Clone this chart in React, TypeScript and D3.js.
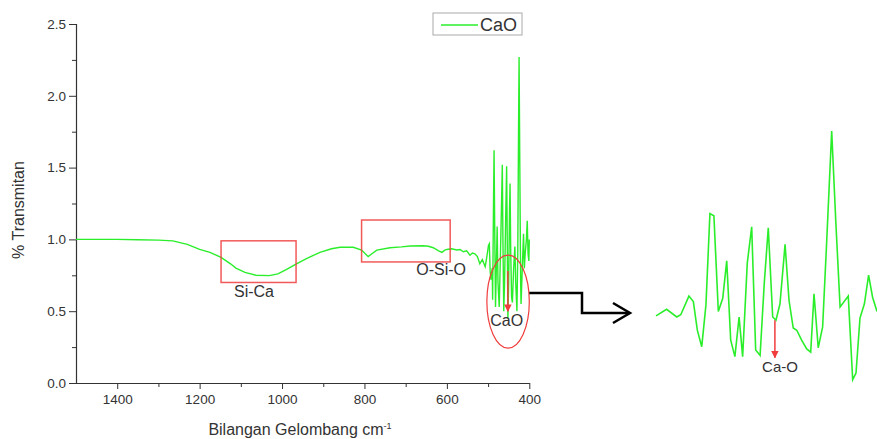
import React, { useEffect, useRef } from 'react';
import * as d3 from 'd3';

// FTIR spectrum of CaO, wavenumber (cm-1) vs transmittance
const wavenumbers = [
  1500, 1450, 1400, 1350, 1300, 1265, 1230, 1200, 1175, 1148, 1125, 1112, 1090, 1063, 1031, 1010,
  990, 965, 942, 908, 880, 859, 827, 807, 798, 791, 782, 770, 738, 710, 689, 657, 645, 633, 620,
  612, 605, 600, 588, 576, 568, 560, 552, 544, 538, 532, 526, 520, 514, 507, 503, 499, 497, 495,
  493, 490, 489, 487, 485.5, 484, 482, 480, 478, 476, 473, 470, 467, 465.5, 464, 462, 460, 457,
  455, 453.5, 452, 450, 448, 446.7, 445, 443, 441, 438, 435, 433, 430, 428, 426, 424.8, 423, 421,
  420, 417, 414, 412, 410, 407, 405, 403, 401, 400,
];
const transmittance = [
  1.0, 1.0, 1.0, 0.998, 0.995, 0.99, 0.965, 0.93, 0.91, 0.875, 0.83, 0.8, 0.77, 0.75, 0.748, 0.76,
  0.79, 0.83, 0.865, 0.91, 0.935, 0.945, 0.945, 0.926, 0.9, 0.88, 0.9, 0.925, 0.942, 0.948, 0.954,
  0.956, 0.952, 0.942, 0.92, 0.91, 0.925, 0.93, 0.935, 0.926, 0.93, 0.914, 0.92, 0.89, 0.905, 0.9,
  0.88, 0.83, 0.86, 0.81, 0.88, 0.96, 0.97, 0.78, 0.72, 0.8, 0.58, 1.2, 1.62, 1.1, 0.53, 0.8, 1.09,
  0.7, 0.53, 0.9, 1.3, 1.52, 1.0, 0.5, 0.7, 1.2, 1.51, 1.0, 0.45, 0.7, 1.2, 1.39, 0.9, 0.6, 0.56,
  0.8, 0.95, 0.7, 0.5, 0.9, 1.8, 2.27, 1.5, 0.7, 0.55, 0.8, 1.04, 0.8, 0.9, 1.0, 1.13, 0.9, 0.85,
  1.0,
];

// enlarged view of the 500-400 cm-1 region (relative units)
const insetWavenumbers = [
  500, 495.2, 490.6, 488.8, 485.1, 483.1, 481.3, 479.3, 477.4, 475.6, 473.8, 471.8, 469.8, 468.0,
  466.2, 464.3, 462.4, 460.8, 458.7, 456.7, 454.9, 452.9, 451.0, 449.2, 447.2, 445.7, 443.9, 441.6,
  439.8, 437.9, 436.3, 434.1, 431.8, 430.0, 428.5, 426.6, 424.6, 422.8, 420.5, 418.6, 416.7, 413.0,
  411.0, 409.5, 407.7, 405.7, 403.8, 402.0, 400,
];
const insetValues = [
  0.61, 0.67, 0.6, 0.62, 0.79, 0.74, 0.48, 0.33, 0.71, 1.54, 1.52, 0.65, 0.77, 1.11, 0.39, 0.24,
  0.6, 0.24, 1.09, 1.42, 0.3, 0.25, 0.91, 1.41, 0.6, 0.57, 0.72, 1.26, 0.75, 0.5, 0.48, 0.39, 0.31,
  0.28, 0.81, 0.32, 0.51, 1.27, 2.29, 1.45, 0.69, 0.79, 0.03, 0.09, 0.59, 0.72, 0.98, 0.78, 0.65,
];

const yTicks = [0, 0.5, 1.0, 1.5, 2.0, 2.5];
const yMinorTicks = [0.25, 0.75, 1.25, 1.75, 2.25];
const xTicks = [1400, 1200, 1000, 800, 600, 400];
const xMinorTicks = [1300, 1100, 900, 700, 500];

const seriesName = 'CaO';
const FONT = '"Liberation Sans", Arial, sans-serif';
const GREEN = '#2bee2b';
const RED = '#f03c3c';

const App = () => {
  const ref = useRef<SVGSVGElement>(null);

  useEffect(() => {
    const svg = d3.select(ref.current);
    svg.selectAll('*').remove();

    const x = d3.scaleLinear().domain([1500, 400]).range([76, 529.3]);
    const y = d3.scaleLinear().domain([0, 2.5]).range([383, 24]);

    const defs = svg.append('defs');
    defs.append('marker')
      .attr('id', 'redhead')
      .attr('viewBox', '0 0 10 10')
      .attr('refX', 9).attr('refY', 5)
      .attr('markerWidth', 5).attr('markerHeight', 6)
      .attr('orient', 'auto')
      .append('path').attr('d', 'M0,0L10,5L0,10z').attr('fill', RED);

    // axes
    const yAxis = svg.append('g').attr('transform', 'translate(76,0)').style('color', '#333');
    yAxis.call(d3.axisLeft(y).tickValues(yTicks).tickSize(7).tickPadding(3).tickFormat(d3.format('.1f')));
    svg.append('g').attr('transform', 'translate(76,0)').style('color', '#333')
      .call(d3.axisLeft(y).tickValues(yMinorTicks).tickSize(4).tickFormat(() => ''))
      .select('.domain').remove();

    const xAxis = svg.append('g').attr('transform', 'translate(0,383)').style('color', '#333');
    xAxis.call(d3.axisBottom(x).tickValues(xTicks).tickSize(6).tickPadding(5).tickSizeOuter(0).tickFormat(d3.format('d')));
    svg.append('g').attr('transform', 'translate(0,383)').style('color', '#333')
      .call(d3.axisBottom(x).tickValues(xMinorTicks).tickSize(4).tickFormat(() => ''))
      .select('.domain').remove();

    svg.selectAll('.tick text').style('font-family', FONT).style('font-size', '13.5px').attr('fill', '#333');
    svg.selectAll('.domain').attr('stroke-width', 1.2);

    svg.append('text')
      .attr('transform', 'translate(24,210) rotate(-90)')
      .attr('text-anchor', 'middle')
      .style('font-family', FONT).style('font-size', '16px').attr('fill', '#333')
      .text('% Transmitan');

    const xt = svg.append('text')
      .attr('x', 300).attr('y', 435)
      .attr('text-anchor', 'middle')
      .style('font-family', FONT).style('font-size', '16px').attr('fill', '#333');
    xt.append('tspan').text('Bilangan Gelombang cm');
    xt.append('tspan').attr('dy', -6).style('font-size', '9px').text('-1');

    // spectrum
    const pts = wavenumbers.map((w, i) => [w, transmittance[i]] as [number, number]);
    svg.append('path')
      .datum(pts)
      .attr('fill', 'none')
      .attr('stroke', GREEN)
      .attr('stroke-width', 1.4)
      .attr('d', d3.line<[number, number]>().x(d => x(d[0])).y(d => y(d[1])));

    // legend
    svg.append('rect').attr('x', 433).attr('y', 13).attr('width', 89).attr('height', 22)
      .attr('fill', 'white').attr('stroke', '#aaa').attr('stroke-width', 1);
    svg.append('line').attr('x1', 441).attr('x2', 478).attr('y1', 25).attr('y2', 25)
      .attr('stroke', GREEN).attr('stroke-width', 1.4);
    svg.append('text').attr('x', 480).attr('y', 31)
      .style('font-family', FONT).style('font-size', '18px').attr('fill', '#333').text(seriesName);

    // annotations
    const boxes = [
      { w0: 1148, w1: 966, v0: 0.99, v1: 0.7, label: 'Si-Ca', lw: 1068, lv: 0.6 },
      { w0: 807, w1: 592, v0: 1.135, v1: 0.843, label: 'O-Si-O', lw: 614, lv: 0.752 },
    ];
    boxes.forEach(b => {
      svg.append('rect')
        .attr('x', x(b.w0)).attr('y', y(b.v0))
        .attr('width', x(b.w1) - x(b.w0)).attr('height', y(b.v1) - y(b.v0))
        .attr('fill', 'none').attr('stroke', RED).attr('stroke-width', 1.5).attr('opacity', 0.85);
      svg.append('text').attr('x', x(b.lw)).attr('y', y(b.lv)).attr('text-anchor', 'middle')
        .style('font-family', FONT).style('font-size', '16px').attr('fill', '#333').text(b.label);
    });

    const ecx = x(451.5), ecy = y(0.567);
    const erx = x(400) - x(451.5), ery = y(0.567 - 0.324) - ecy;
    svg.append('ellipse').attr('cx', ecx).attr('cy', ecy).attr('rx', erx).attr('ry', ery)
      .attr('fill', 'none').attr('stroke', RED).attr('stroke-width', 1.2);
    svg.append('line').attr('x1', x(452)).attr('x2', x(452)).attr('y1', y(0.78)).attr('y2', y(0.5))
      .attr('stroke', RED).attr('stroke-width', 1.5).attr('marker-end', 'url(#redhead)');
    svg.append('text').attr('x', x(455)).attr('y', y(0.4)).attr('text-anchor', 'middle')
      .style('font-family', FONT).style('font-size', '16px').attr('fill', '#333').text('CaO');

    // connector to the enlarged view
    const sx = ecx + erx;
    svg.append('path')
      .attr('d', `M${sx},293H582V313H628`)
      .attr('fill', 'none').attr('stroke', 'black').attr('stroke-width', 2.5);
    svg.append('path')
      .attr('d', 'M613,303L630,313L613,323')
      .attr('fill', 'none').attr('stroke', 'black').attr('stroke-width', 2.5);

    // inset
    const ix = d3.scaleLinear().domain([500, 400]).range([656, 877]);
    const iy = d3.scaleLinear().domain([0, 2.3]).range([383, 130]);
    const ipts = insetWavenumbers.map((w, i) => [w, insetValues[i]] as [number, number]);
    svg.append('path')
      .datum(ipts)
      .attr('fill', 'none')
      .attr('stroke', GREEN)
      .attr('stroke-width', 1.6)
      .attr('d', d3.line<[number, number]>().x(d => ix(d[0])).y(d => iy(d[1])));
    svg.append('line').attr('x1', ix(446.2)).attr('x2', ix(446.2)).attr('y1', iy(0.57)).attr('y2', iy(0.23))
      .attr('stroke', RED).attr('stroke-width', 1.5).attr('marker-end', 'url(#redhead)');
    svg.append('text').attr('x', ix(443.9)).attr('y', iy(0.1)).attr('text-anchor', 'middle')
      .style('font-family', FONT).style('font-size', '15px').attr('fill', '#333').text('Ca-O');
  }, []);

  return (
    <svg
      ref={ref}
      width={877}
      height={439}
      style={{ position: 'fixed', left: 0, top: 0, background: 'white', display: 'block' }}
    />
  );
};

export default App;
